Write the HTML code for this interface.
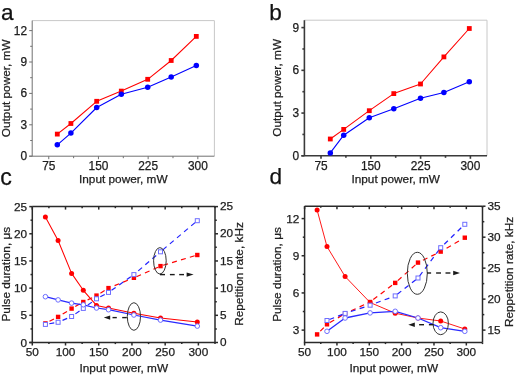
<!DOCTYPE html>
<html><head><meta charset="utf-8"><style>
html,body{margin:0;padding:0;background:#fff;width:525px;height:375px;overflow:hidden}
svg{display:block;will-change:transform}
text{font-family:"Liberation Sans", sans-serif;stroke:#1a1a1a;stroke-width:0.25px}
</style></head><body>
<svg width="525" height="375" viewBox="0 0 525 375">
<rect width="525" height="375" fill="#fff"/>
<g>
<line x1="32.20" y1="20.60" x2="214.40" y2="20.60" stroke="#c8c8c8" stroke-width="1" />
<line x1="214.40" y1="20.60" x2="214.40" y2="156.20" stroke="#c8c8c8" stroke-width="1" />
<line x1="29.20" y1="156.20" x2="214.40" y2="156.20" stroke="#707070" stroke-width="1" />
<line x1="32.20" y1="20.60" x2="32.20" y2="156.20" stroke="#707070" stroke-width="1" />
<line x1="48.76" y1="156.20" x2="48.76" y2="159.20" stroke="#707070" stroke-width="1" />
<line x1="73.61" y1="156.20" x2="73.61" y2="158.20" stroke="#707070" stroke-width="1" />
<line x1="98.45" y1="156.20" x2="98.45" y2="159.20" stroke="#707070" stroke-width="1" />
<line x1="123.30" y1="156.20" x2="123.30" y2="158.20" stroke="#707070" stroke-width="1" />
<line x1="148.15" y1="156.20" x2="148.15" y2="159.20" stroke="#707070" stroke-width="1" />
<line x1="172.99" y1="156.20" x2="172.99" y2="158.20" stroke="#707070" stroke-width="1" />
<line x1="197.84" y1="156.20" x2="197.84" y2="159.20" stroke="#707070" stroke-width="1" />
<line x1="30.20" y1="140.50" x2="32.20" y2="140.50" stroke="#707070" stroke-width="1" />
<line x1="30.20" y1="109.10" x2="32.20" y2="109.10" stroke="#707070" stroke-width="1" />
<line x1="30.20" y1="77.70" x2="32.20" y2="77.70" stroke="#707070" stroke-width="1" />
<line x1="30.20" y1="46.30" x2="32.20" y2="46.30" stroke="#707070" stroke-width="1" />
<line x1="29.20" y1="156.20" x2="32.20" y2="156.20" stroke="#707070" stroke-width="1" />
<text x="27.00" y="160.20" font-size="11.9" text-anchor="end" fill="#222" >0</text>
<line x1="29.20" y1="124.80" x2="32.20" y2="124.80" stroke="#707070" stroke-width="1" />
<text x="27.00" y="128.80" font-size="11.9" text-anchor="end" fill="#222" >3</text>
<line x1="29.20" y1="93.40" x2="32.20" y2="93.40" stroke="#707070" stroke-width="1" />
<text x="27.00" y="97.40" font-size="11.9" text-anchor="end" fill="#222" >6</text>
<line x1="29.20" y1="62.00" x2="32.20" y2="62.00" stroke="#707070" stroke-width="1" />
<text x="27.00" y="66.00" font-size="11.9" text-anchor="end" fill="#222" >9</text>
<line x1="29.20" y1="30.60" x2="32.20" y2="30.60" stroke="#707070" stroke-width="1" />
<text x="27.00" y="34.60" font-size="11.9" text-anchor="end" fill="#222" >12</text>
<text x="48.76" y="170.00" font-size="11.9" text-anchor="middle" fill="#222" >75</text>
<text x="98.45" y="170.00" font-size="11.9" text-anchor="middle" fill="#222" >150</text>
<text x="148.15" y="170.00" font-size="11.9" text-anchor="middle" fill="#222" >225</text>
<text x="197.84" y="170.00" font-size="11.9" text-anchor="middle" fill="#222" >300</text>
<polyline points="57.30,134.10 70.90,123.50 96.70,101.30 121.30,91.10 147.70,79.30 171.20,60.50 196.30,36.40" fill="none" stroke="#ff0000" stroke-width="1.05" stroke-linejoin="round"/>
<polyline points="57.30,144.80 70.90,133.10 96.70,107.50 121.30,94.30 147.70,87.20 171.20,76.90 196.30,65.40" fill="none" stroke="#0000ff" stroke-width="1.1" stroke-linejoin="round"/>
<rect x="54.90" y="131.70" width="4.8" height="4.8" fill="#ff0000"/>
<rect x="68.50" y="121.10" width="4.8" height="4.8" fill="#ff0000"/>
<rect x="94.30" y="98.90" width="4.8" height="4.8" fill="#ff0000"/>
<rect x="118.90" y="88.70" width="4.8" height="4.8" fill="#ff0000"/>
<rect x="145.30" y="76.90" width="4.8" height="4.8" fill="#ff0000"/>
<rect x="168.80" y="58.10" width="4.8" height="4.8" fill="#ff0000"/>
<rect x="193.90" y="34.00" width="4.8" height="4.8" fill="#ff0000"/>
<circle cx="57.30" cy="144.80" r="2.75" fill="#0000ff"/>
<circle cx="70.90" cy="133.10" r="2.75" fill="#0000ff"/>
<circle cx="96.70" cy="107.50" r="2.75" fill="#0000ff"/>
<circle cx="121.30" cy="94.30" r="2.75" fill="#0000ff"/>
<circle cx="147.70" cy="87.20" r="2.75" fill="#0000ff"/>
<circle cx="171.20" cy="76.90" r="2.75" fill="#0000ff"/>
<circle cx="196.30" cy="65.40" r="2.75" fill="#0000ff"/>
<text x="0.90" y="19.60" font-size="22.6" text-anchor="start" fill="#111" >a</text>
<text x="123.30" y="183.00" font-size="11.8" text-anchor="middle" fill="#222" >Input power, mW</text>
<text x="0" y="0" transform="translate(10.30,88.30) rotate(-90)" font-size="11.8" text-anchor="middle" fill="#222" >Output power, mW</text>
</g>
<line x1="304.40" y1="20.20" x2="487.00" y2="20.20" stroke="#c8c8c8" stroke-width="1" />
<line x1="487.00" y1="20.20" x2="487.00" y2="155.80" stroke="#c8c8c8" stroke-width="1" />
<line x1="301.40" y1="155.80" x2="487.00" y2="155.80" stroke="#3a3a3a" stroke-width="1.6" />
<line x1="304.40" y1="20.20" x2="304.40" y2="155.80" stroke="#3a3a3a" stroke-width="1.6" />
<line x1="321.00" y1="155.80" x2="321.00" y2="158.80" stroke="#3a3a3a" stroke-width="1.6" />
<line x1="345.90" y1="155.80" x2="345.90" y2="157.80" stroke="#3a3a3a" stroke-width="1.6" />
<line x1="370.80" y1="155.80" x2="370.80" y2="158.80" stroke="#3a3a3a" stroke-width="1.6" />
<line x1="395.70" y1="155.80" x2="395.70" y2="157.80" stroke="#3a3a3a" stroke-width="1.6" />
<line x1="420.60" y1="155.80" x2="420.60" y2="158.80" stroke="#3a3a3a" stroke-width="1.6" />
<line x1="445.50" y1="155.80" x2="445.50" y2="157.80" stroke="#3a3a3a" stroke-width="1.6" />
<line x1="470.40" y1="155.80" x2="470.40" y2="158.80" stroke="#3a3a3a" stroke-width="1.6" />
<line x1="302.40" y1="134.43" x2="304.40" y2="134.43" stroke="#3a3a3a" stroke-width="1.6" />
<line x1="302.40" y1="91.70" x2="304.40" y2="91.70" stroke="#3a3a3a" stroke-width="1.6" />
<line x1="302.40" y1="48.97" x2="304.40" y2="48.97" stroke="#3a3a3a" stroke-width="1.6" />
<line x1="301.40" y1="155.80" x2="304.40" y2="155.80" stroke="#3a3a3a" stroke-width="1.6" />
<text x="299.20" y="159.80" font-size="11.9" text-anchor="end" fill="#222" >0</text>
<line x1="301.40" y1="113.07" x2="304.40" y2="113.07" stroke="#3a3a3a" stroke-width="1.6" />
<text x="299.20" y="117.07" font-size="11.9" text-anchor="end" fill="#222" >3</text>
<line x1="301.40" y1="70.33" x2="304.40" y2="70.33" stroke="#3a3a3a" stroke-width="1.6" />
<text x="299.20" y="74.33" font-size="11.9" text-anchor="end" fill="#222" >6</text>
<line x1="301.40" y1="27.60" x2="304.40" y2="27.60" stroke="#3a3a3a" stroke-width="1.6" />
<text x="299.20" y="31.60" font-size="11.9" text-anchor="end" fill="#222" >9</text>
<text x="321.00" y="169.60" font-size="11.9" text-anchor="middle" fill="#222" >75</text>
<text x="370.80" y="169.60" font-size="11.9" text-anchor="middle" fill="#222" >150</text>
<text x="420.60" y="169.60" font-size="11.9" text-anchor="middle" fill="#222" >225</text>
<text x="470.40" y="169.60" font-size="11.9" text-anchor="middle" fill="#222" >300</text>
<polyline points="330.30,139.00 343.70,129.40 369.30,110.70 393.80,93.60 420.50,84.00 443.90,56.90 469.30,28.50" fill="none" stroke="#ff0000" stroke-width="1.05" stroke-linejoin="round"/>
<polyline points="330.30,152.90 343.70,135.20 369.30,117.70 393.80,108.80 420.50,98.30 443.90,92.50 469.30,81.80" fill="none" stroke="#0000ff" stroke-width="1.1" stroke-linejoin="round"/>
<rect x="327.90" y="136.60" width="4.8" height="4.8" fill="#ff0000"/>
<rect x="341.30" y="127.00" width="4.8" height="4.8" fill="#ff0000"/>
<rect x="366.90" y="108.30" width="4.8" height="4.8" fill="#ff0000"/>
<rect x="391.40" y="91.20" width="4.8" height="4.8" fill="#ff0000"/>
<rect x="418.10" y="81.60" width="4.8" height="4.8" fill="#ff0000"/>
<rect x="441.50" y="54.50" width="4.8" height="4.8" fill="#ff0000"/>
<rect x="466.90" y="26.10" width="4.8" height="4.8" fill="#ff0000"/>
<circle cx="330.30" cy="152.90" r="2.75" fill="#0000ff"/>
<circle cx="343.70" cy="135.20" r="2.75" fill="#0000ff"/>
<circle cx="369.30" cy="117.70" r="2.75" fill="#0000ff"/>
<circle cx="393.80" cy="108.80" r="2.75" fill="#0000ff"/>
<circle cx="420.50" cy="98.30" r="2.75" fill="#0000ff"/>
<circle cx="443.90" cy="92.50" r="2.75" fill="#0000ff"/>
<circle cx="469.30" cy="81.80" r="2.75" fill="#0000ff"/>
<text x="269.30" y="19.60" font-size="22.6" text-anchor="start" fill="#111" >b</text>
<text x="395.70" y="183.00" font-size="11.8" text-anchor="middle" fill="#222" >Input power, mW</text>
<text x="0" y="0" transform="translate(280.70,87.80) rotate(-90)" font-size="11.8" text-anchor="middle" fill="#222" >Output power, mW</text>
<line x1="32.30" y1="206.60" x2="215.00" y2="206.60" stroke="#2a2a2a" stroke-width="1.5" />
<line x1="215.00" y1="206.60" x2="215.00" y2="342.50" stroke="#2a2a2a" stroke-width="1.5" />
<line x1="29.30" y1="342.50" x2="215.00" y2="342.50" stroke="#2a2a2a" stroke-width="1.5" />
<line x1="32.30" y1="206.60" x2="32.30" y2="342.50" stroke="#2a2a2a" stroke-width="1.5" />
<line x1="32.30" y1="342.50" x2="32.30" y2="345.50" stroke="#2a2a2a" stroke-width="1.5" />
<line x1="32.30" y1="206.60" x2="32.30" y2="209.60" stroke="#2a2a2a" stroke-width="1.5" />
<text x="32.30" y="356.10" font-size="11.8" text-anchor="middle" fill="#222" >50</text>
<line x1="48.91" y1="342.50" x2="48.91" y2="344.10" stroke="#2a2a2a" stroke-width="1.5" />
<line x1="48.91" y1="206.60" x2="48.91" y2="208.20" stroke="#2a2a2a" stroke-width="1.5" />
<line x1="65.52" y1="342.50" x2="65.52" y2="345.50" stroke="#2a2a2a" stroke-width="1.5" />
<line x1="65.52" y1="206.60" x2="65.52" y2="209.60" stroke="#2a2a2a" stroke-width="1.5" />
<text x="65.52" y="356.10" font-size="11.8" text-anchor="middle" fill="#222" >100</text>
<line x1="82.13" y1="342.50" x2="82.13" y2="344.10" stroke="#2a2a2a" stroke-width="1.5" />
<line x1="82.13" y1="206.60" x2="82.13" y2="208.20" stroke="#2a2a2a" stroke-width="1.5" />
<line x1="98.74" y1="342.50" x2="98.74" y2="345.50" stroke="#2a2a2a" stroke-width="1.5" />
<line x1="98.74" y1="206.60" x2="98.74" y2="209.60" stroke="#2a2a2a" stroke-width="1.5" />
<text x="98.74" y="356.10" font-size="11.8" text-anchor="middle" fill="#222" >150</text>
<line x1="115.35" y1="342.50" x2="115.35" y2="344.10" stroke="#2a2a2a" stroke-width="1.5" />
<line x1="115.35" y1="206.60" x2="115.35" y2="208.20" stroke="#2a2a2a" stroke-width="1.5" />
<line x1="131.95" y1="342.50" x2="131.95" y2="345.50" stroke="#2a2a2a" stroke-width="1.5" />
<line x1="131.95" y1="206.60" x2="131.95" y2="209.60" stroke="#2a2a2a" stroke-width="1.5" />
<text x="131.95" y="356.10" font-size="11.8" text-anchor="middle" fill="#222" >200</text>
<line x1="148.56" y1="342.50" x2="148.56" y2="344.10" stroke="#2a2a2a" stroke-width="1.5" />
<line x1="148.56" y1="206.60" x2="148.56" y2="208.20" stroke="#2a2a2a" stroke-width="1.5" />
<line x1="165.17" y1="342.50" x2="165.17" y2="345.50" stroke="#2a2a2a" stroke-width="1.5" />
<line x1="165.17" y1="206.60" x2="165.17" y2="209.60" stroke="#2a2a2a" stroke-width="1.5" />
<text x="165.17" y="356.10" font-size="11.8" text-anchor="middle" fill="#222" >250</text>
<line x1="181.78" y1="342.50" x2="181.78" y2="344.10" stroke="#2a2a2a" stroke-width="1.5" />
<line x1="181.78" y1="206.60" x2="181.78" y2="208.20" stroke="#2a2a2a" stroke-width="1.5" />
<line x1="198.39" y1="342.50" x2="198.39" y2="345.50" stroke="#2a2a2a" stroke-width="1.5" />
<line x1="198.39" y1="206.60" x2="198.39" y2="209.60" stroke="#2a2a2a" stroke-width="1.5" />
<text x="198.39" y="356.10" font-size="11.8" text-anchor="middle" fill="#222" >300</text>
<line x1="215.00" y1="342.50" x2="215.00" y2="344.10" stroke="#2a2a2a" stroke-width="1.5" />
<line x1="215.00" y1="206.60" x2="215.00" y2="208.20" stroke="#2a2a2a" stroke-width="1.5" />
<line x1="30.50" y1="328.91" x2="32.30" y2="328.91" stroke="#2a2a2a" stroke-width="1.5" />
<line x1="30.50" y1="301.73" x2="32.30" y2="301.73" stroke="#2a2a2a" stroke-width="1.5" />
<line x1="30.50" y1="274.55" x2="32.30" y2="274.55" stroke="#2a2a2a" stroke-width="1.5" />
<line x1="30.50" y1="247.37" x2="32.30" y2="247.37" stroke="#2a2a2a" stroke-width="1.5" />
<line x1="30.50" y1="220.19" x2="32.30" y2="220.19" stroke="#2a2a2a" stroke-width="1.5" />
<line x1="29.30" y1="342.50" x2="32.30" y2="342.50" stroke="#2a2a2a" stroke-width="1.5" />
<text x="27.10" y="346.50" font-size="11.8" text-anchor="end" fill="#222" >0</text>
<line x1="29.30" y1="315.32" x2="32.30" y2="315.32" stroke="#2a2a2a" stroke-width="1.5" />
<text x="27.10" y="319.32" font-size="11.8" text-anchor="end" fill="#222" >5</text>
<line x1="29.30" y1="288.14" x2="32.30" y2="288.14" stroke="#2a2a2a" stroke-width="1.5" />
<text x="27.10" y="292.14" font-size="11.8" text-anchor="end" fill="#222" >10</text>
<line x1="29.30" y1="260.96" x2="32.30" y2="260.96" stroke="#2a2a2a" stroke-width="1.5" />
<text x="27.10" y="264.96" font-size="11.8" text-anchor="end" fill="#222" >15</text>
<line x1="29.30" y1="233.78" x2="32.30" y2="233.78" stroke="#2a2a2a" stroke-width="1.5" />
<text x="27.10" y="237.78" font-size="11.8" text-anchor="end" fill="#222" >20</text>
<line x1="29.30" y1="206.60" x2="32.30" y2="206.60" stroke="#2a2a2a" stroke-width="1.5" />
<text x="27.10" y="210.60" font-size="11.8" text-anchor="end" fill="#222" >25</text>
<line x1="215.00" y1="328.91" x2="216.80" y2="328.91" stroke="#2a2a2a" stroke-width="1.5" />
<line x1="215.00" y1="301.73" x2="216.80" y2="301.73" stroke="#2a2a2a" stroke-width="1.5" />
<line x1="215.00" y1="274.55" x2="216.80" y2="274.55" stroke="#2a2a2a" stroke-width="1.5" />
<line x1="215.00" y1="247.37" x2="216.80" y2="247.37" stroke="#2a2a2a" stroke-width="1.5" />
<line x1="215.00" y1="220.19" x2="216.80" y2="220.19" stroke="#2a2a2a" stroke-width="1.5" />
<line x1="215.00" y1="342.50" x2="218.00" y2="342.50" stroke="#2a2a2a" stroke-width="1.5" />
<text x="219.90" y="346.10" font-size="11.8" text-anchor="start" fill="#222" >0</text>
<line x1="215.00" y1="315.32" x2="218.00" y2="315.32" stroke="#2a2a2a" stroke-width="1.5" />
<text x="219.90" y="318.92" font-size="11.8" text-anchor="start" fill="#222" >5</text>
<line x1="215.00" y1="288.14" x2="218.00" y2="288.14" stroke="#2a2a2a" stroke-width="1.5" />
<text x="219.90" y="291.74" font-size="11.8" text-anchor="start" fill="#222" >10</text>
<line x1="215.00" y1="260.96" x2="218.00" y2="260.96" stroke="#2a2a2a" stroke-width="1.5" />
<text x="219.90" y="264.56" font-size="11.8" text-anchor="start" fill="#222" >15</text>
<line x1="215.00" y1="233.78" x2="218.00" y2="233.78" stroke="#2a2a2a" stroke-width="1.5" />
<text x="219.90" y="237.38" font-size="11.8" text-anchor="start" fill="#222" >20</text>
<line x1="215.00" y1="206.60" x2="218.00" y2="206.60" stroke="#2a2a2a" stroke-width="1.5" />
<text x="219.90" y="210.20" font-size="11.8" text-anchor="start" fill="#222" >25</text>
<line x1="49.52" y1="321.29" x2="53.98" y2="319.01" stroke="#ff0000" stroke-width="1.2"/>
<line x1="62.72" y1="314.06" x2="66.98" y2="311.44" stroke="#ff0000" stroke-width="1.2"/>
<line x1="75.27" y1="306.53" x2="79.63" y2="304.07" stroke="#ff0000" stroke-width="1.2"/>
<line x1="87.65" y1="299.89" x2="92.15" y2="297.71" stroke="#ff0000" stroke-width="1.2"/>
<line x1="100.38" y1="293.17" x2="104.62" y2="290.53" stroke="#ff0000" stroke-width="1.2"/>
<line x1="114.57" y1="285.64" x2="119.21" y2="283.76" stroke="#ff0000" stroke-width="1.2"/>
<line x1="123.19" y1="282.14" x2="127.83" y2="280.26" stroke="#ff0000" stroke-width="1.2"/>
<line x1="136.40" y1="276.70" x2="140.98" y2="274.69" stroke="#ff0000" stroke-width="1.2"/>
<line x1="144.91" y1="272.96" x2="149.49" y2="270.94" stroke="#ff0000" stroke-width="1.2"/>
<line x1="153.42" y1="269.21" x2="158.00" y2="267.20" stroke="#ff0000" stroke-width="1.2"/>
<line x1="163.15" y1="265.30" x2="167.94" y2="263.86" stroke="#ff0000" stroke-width="1.2"/>
<line x1="172.05" y1="262.61" x2="176.84" y2="261.17" stroke="#ff0000" stroke-width="1.2"/>
<line x1="180.96" y1="259.93" x2="185.75" y2="258.49" stroke="#ff0000" stroke-width="1.2"/>
<line x1="189.86" y1="257.24" x2="194.65" y2="255.80" stroke="#ff0000" stroke-width="1.2"/>
<line x1="49.28" y1="323.76" x2="54.22" y2="322.94" stroke="#1f1fff" stroke-width="1.2"/>
<line x1="62.55" y1="320.39" x2="67.15" y2="318.41" stroke="#1f1fff" stroke-width="1.2"/>
<line x1="75.39" y1="313.87" x2="79.51" y2="311.03" stroke="#1f1fff" stroke-width="1.2"/>
<line x1="87.88" y1="305.07" x2="91.92" y2="302.13" stroke="#1f1fff" stroke-width="1.2"/>
<line x1="100.29" y1="296.78" x2="104.71" y2="294.42" stroke="#1f1fff" stroke-width="1.2"/>
<line x1="111.54" y1="290.27" x2="115.63" y2="287.40" stroke="#1f1fff" stroke-width="1.2"/>
<line x1="119.15" y1="284.93" x2="123.25" y2="282.07" stroke="#1f1fff" stroke-width="1.2"/>
<line x1="126.77" y1="279.60" x2="130.86" y2="276.73" stroke="#1f1fff" stroke-width="1.2"/>
<line x1="138.24" y1="270.88" x2="142.04" y2="267.63" stroke="#1f1fff" stroke-width="1.2"/>
<line x1="145.30" y1="264.83" x2="149.10" y2="261.57" stroke="#1f1fff" stroke-width="1.2"/>
<line x1="152.36" y1="258.77" x2="156.16" y2="255.52" stroke="#1f1fff" stroke-width="1.2"/>
<line x1="162.78" y1="249.87" x2="166.60" y2="246.64" stroke="#1f1fff" stroke-width="1.2"/>
<line x1="169.89" y1="243.87" x2="173.71" y2="240.64" stroke="#1f1fff" stroke-width="1.2"/>
<line x1="176.99" y1="237.86" x2="180.81" y2="234.64" stroke="#1f1fff" stroke-width="1.2"/>
<line x1="184.09" y1="231.86" x2="187.91" y2="228.63" stroke="#1f1fff" stroke-width="1.2"/>
<line x1="191.20" y1="225.86" x2="195.02" y2="222.63" stroke="#1f1fff" stroke-width="1.2"/>
<polyline points="45.40,217.10 58.10,240.50 71.60,273.40 83.30,290.30 96.50,305.40 108.50,308.00 133.90,313.30 160.50,318.00 197.30,321.90" fill="none" stroke="#ff0000" stroke-width="1.05" stroke-linejoin="round"/>
<polyline points="45.40,296.70 58.10,299.90 71.60,303.10 83.30,304.80 96.50,308.00 108.50,309.70 133.90,315.00 160.50,320.10 197.30,326.10" fill="none" stroke="#2a2aff" stroke-width="1.25" stroke-linejoin="round"/>
<rect x="43.20" y="321.20" width="4.4" height="4.4" fill="#ff0000"/>
<rect x="55.90" y="314.70" width="4.4" height="4.4" fill="#ff0000"/>
<rect x="69.40" y="306.40" width="4.4" height="4.4" fill="#ff0000"/>
<rect x="81.10" y="299.80" width="4.4" height="4.4" fill="#ff0000"/>
<rect x="94.30" y="293.40" width="4.4" height="4.4" fill="#ff0000"/>
<rect x="106.30" y="285.90" width="4.4" height="4.4" fill="#ff0000"/>
<rect x="131.70" y="275.60" width="4.4" height="4.4" fill="#ff0000"/>
<rect x="158.30" y="263.90" width="4.4" height="4.4" fill="#ff0000"/>
<rect x="195.10" y="252.80" width="4.4" height="4.4" fill="#ff0000"/>
<circle cx="45.40" cy="217.10" r="2.5" fill="#ff0000"/>
<circle cx="58.10" cy="240.50" r="2.5" fill="#ff0000"/>
<circle cx="71.60" cy="273.40" r="2.5" fill="#ff0000"/>
<circle cx="83.30" cy="290.30" r="2.5" fill="#ff0000"/>
<circle cx="96.50" cy="305.40" r="2.5" fill="#ff0000"/>
<circle cx="108.50" cy="308.00" r="2.5" fill="#ff0000"/>
<circle cx="133.90" cy="313.30" r="2.5" fill="#ff0000"/>
<circle cx="160.50" cy="318.00" r="2.5" fill="#ff0000"/>
<circle cx="197.30" cy="321.90" r="2.5" fill="#ff0000"/>
<rect x="43.40" y="322.40" width="4.0" height="4.0" fill="#fff" stroke="#6e6eff" stroke-width="1"/>
<rect x="56.10" y="320.30" width="4.0" height="4.0" fill="#fff" stroke="#6e6eff" stroke-width="1"/>
<rect x="69.60" y="314.50" width="4.0" height="4.0" fill="#fff" stroke="#6e6eff" stroke-width="1"/>
<rect x="81.30" y="306.40" width="4.0" height="4.0" fill="#fff" stroke="#6e6eff" stroke-width="1"/>
<rect x="94.50" y="296.80" width="4.0" height="4.0" fill="#fff" stroke="#6e6eff" stroke-width="1"/>
<rect x="106.50" y="290.40" width="4.0" height="4.0" fill="#fff" stroke="#6e6eff" stroke-width="1"/>
<rect x="131.90" y="272.60" width="4.0" height="4.0" fill="#fff" stroke="#6e6eff" stroke-width="1"/>
<rect x="158.50" y="249.80" width="4.0" height="4.0" fill="#fff" stroke="#6e6eff" stroke-width="1"/>
<rect x="195.30" y="218.70" width="4.0" height="4.0" fill="#fff" stroke="#6e6eff" stroke-width="1"/>
<circle cx="45.40" cy="296.70" r="2.3" fill="#fff" stroke="#6e6eff" stroke-width="1"/>
<circle cx="58.10" cy="299.90" r="2.3" fill="#fff" stroke="#6e6eff" stroke-width="1"/>
<circle cx="71.60" cy="303.10" r="2.3" fill="#fff" stroke="#6e6eff" stroke-width="1"/>
<circle cx="83.30" cy="304.80" r="2.3" fill="#fff" stroke="#6e6eff" stroke-width="1"/>
<circle cx="96.50" cy="308.00" r="2.3" fill="#fff" stroke="#6e6eff" stroke-width="1"/>
<circle cx="108.50" cy="309.70" r="2.3" fill="#fff" stroke="#6e6eff" stroke-width="1"/>
<circle cx="133.90" cy="315.00" r="2.3" fill="#fff" stroke="#6e6eff" stroke-width="1"/>
<circle cx="160.50" cy="320.10" r="2.3" fill="#fff" stroke="#6e6eff" stroke-width="1"/>
<circle cx="197.30" cy="326.10" r="2.3" fill="#fff" stroke="#6e6eff" stroke-width="1"/>
<ellipse cx="159.9" cy="260.8" rx="6.3" ry="13.2" fill="none" stroke="#333" stroke-width="1"/>
<ellipse cx="133.9" cy="316.5" rx="6.6" ry="13.8" fill="none" stroke="#333" stroke-width="1"/>
<line x1="159.9" y1="274.6" x2="165.0" y2="274.6" stroke="#1a1a1a" stroke-width="1.4"/>
<line x1="169.9" y1="274.6" x2="174.7" y2="274.6" stroke="#1a1a1a" stroke-width="1.4"/>
<line x1="179.2" y1="274.6" x2="184.0" y2="274.6" stroke="#1a1a1a" stroke-width="1.4"/>
<polygon points="193.6,274.6 186.6,272.40000000000003 186.6,276.8" fill="#1a1a1a"/>
<line x1="112.5" y1="317.6" x2="116.8" y2="317.6" stroke="#1a1a1a" stroke-width="1.4"/>
<line x1="122.2" y1="317.6" x2="126.8" y2="317.6" stroke="#1a1a1a" stroke-width="1.4"/>
<polygon points="103.8,317.6 110.2,315.40000000000003 110.2,319.8" fill="#1a1a1a"/>
<text x="0.20" y="184.60" font-size="23.2" text-anchor="start" fill="#111" >c</text>
<text x="123.80" y="371.50" font-size="11.8" text-anchor="middle" fill="#222" >Input power, mW</text>
<text x="0" y="0" transform="translate(9.50,274.20) rotate(-90)" font-size="11.8" text-anchor="middle" fill="#222" >Pulse duration, μs</text>
<text x="0" y="0" transform="translate(242.60,274.00) rotate(-90)" font-size="11.8" text-anchor="middle" fill="#222" >Repetition rate, kHz</text>
<line x1="304.60" y1="206.20" x2="482.50" y2="206.20" stroke="#2a2a2a" stroke-width="1.5" />
<line x1="482.50" y1="206.20" x2="482.50" y2="342.50" stroke="#2a2a2a" stroke-width="1.5" />
<line x1="303.85" y1="342.50" x2="482.50" y2="342.50" stroke="#2a2a2a" stroke-width="1.5" />
<line x1="304.60" y1="206.20" x2="304.60" y2="342.50" stroke="#2a2a2a" stroke-width="1.5" />
<line x1="304.60" y1="342.50" x2="304.60" y2="345.50" stroke="#2a2a2a" stroke-width="1.5" />
<line x1="304.60" y1="206.20" x2="304.60" y2="209.20" stroke="#2a2a2a" stroke-width="1.5" />
<text x="304.60" y="356.10" font-size="11.8" text-anchor="middle" fill="#222" >50</text>
<line x1="320.77" y1="342.50" x2="320.77" y2="344.10" stroke="#2a2a2a" stroke-width="1.5" />
<line x1="320.77" y1="206.20" x2="320.77" y2="207.80" stroke="#2a2a2a" stroke-width="1.5" />
<line x1="336.95" y1="342.50" x2="336.95" y2="345.50" stroke="#2a2a2a" stroke-width="1.5" />
<line x1="336.95" y1="206.20" x2="336.95" y2="209.20" stroke="#2a2a2a" stroke-width="1.5" />
<text x="336.95" y="356.10" font-size="11.8" text-anchor="middle" fill="#222" >100</text>
<line x1="353.12" y1="342.50" x2="353.12" y2="344.10" stroke="#2a2a2a" stroke-width="1.5" />
<line x1="353.12" y1="206.20" x2="353.12" y2="207.80" stroke="#2a2a2a" stroke-width="1.5" />
<line x1="369.29" y1="342.50" x2="369.29" y2="345.50" stroke="#2a2a2a" stroke-width="1.5" />
<line x1="369.29" y1="206.20" x2="369.29" y2="209.20" stroke="#2a2a2a" stroke-width="1.5" />
<text x="369.29" y="356.10" font-size="11.8" text-anchor="middle" fill="#222" >150</text>
<line x1="385.46" y1="342.50" x2="385.46" y2="344.10" stroke="#2a2a2a" stroke-width="1.5" />
<line x1="385.46" y1="206.20" x2="385.46" y2="207.80" stroke="#2a2a2a" stroke-width="1.5" />
<line x1="401.64" y1="342.50" x2="401.64" y2="345.50" stroke="#2a2a2a" stroke-width="1.5" />
<line x1="401.64" y1="206.20" x2="401.64" y2="209.20" stroke="#2a2a2a" stroke-width="1.5" />
<text x="401.64" y="356.10" font-size="11.8" text-anchor="middle" fill="#222" >200</text>
<line x1="417.81" y1="342.50" x2="417.81" y2="344.10" stroke="#2a2a2a" stroke-width="1.5" />
<line x1="417.81" y1="206.20" x2="417.81" y2="207.80" stroke="#2a2a2a" stroke-width="1.5" />
<line x1="433.98" y1="342.50" x2="433.98" y2="345.50" stroke="#2a2a2a" stroke-width="1.5" />
<line x1="433.98" y1="206.20" x2="433.98" y2="209.20" stroke="#2a2a2a" stroke-width="1.5" />
<text x="433.98" y="356.10" font-size="11.8" text-anchor="middle" fill="#222" >250</text>
<line x1="450.15" y1="342.50" x2="450.15" y2="344.10" stroke="#2a2a2a" stroke-width="1.5" />
<line x1="450.15" y1="206.20" x2="450.15" y2="207.80" stroke="#2a2a2a" stroke-width="1.5" />
<line x1="466.33" y1="342.50" x2="466.33" y2="345.50" stroke="#2a2a2a" stroke-width="1.5" />
<line x1="466.33" y1="206.20" x2="466.33" y2="209.20" stroke="#2a2a2a" stroke-width="1.5" />
<text x="466.33" y="356.10" font-size="11.8" text-anchor="middle" fill="#222" >300</text>
<line x1="482.50" y1="342.50" x2="482.50" y2="344.10" stroke="#2a2a2a" stroke-width="1.5" />
<line x1="482.50" y1="206.20" x2="482.50" y2="207.80" stroke="#2a2a2a" stroke-width="1.5" />
<line x1="302.80" y1="311.52" x2="304.60" y2="311.52" stroke="#2a2a2a" stroke-width="1.5" />
<line x1="302.80" y1="274.35" x2="304.60" y2="274.35" stroke="#2a2a2a" stroke-width="1.5" />
<line x1="302.80" y1="237.18" x2="304.60" y2="237.18" stroke="#2a2a2a" stroke-width="1.5" />
<line x1="301.60" y1="330.11" x2="304.60" y2="330.11" stroke="#2a2a2a" stroke-width="1.5" />
<text x="299.40" y="334.11" font-size="11.8" text-anchor="end" fill="#222" >3</text>
<line x1="301.60" y1="292.94" x2="304.60" y2="292.94" stroke="#2a2a2a" stroke-width="1.5" />
<text x="299.40" y="296.94" font-size="11.8" text-anchor="end" fill="#222" >6</text>
<line x1="301.60" y1="255.76" x2="304.60" y2="255.76" stroke="#2a2a2a" stroke-width="1.5" />
<text x="299.40" y="259.76" font-size="11.8" text-anchor="end" fill="#222" >9</text>
<line x1="301.60" y1="218.59" x2="304.60" y2="218.59" stroke="#2a2a2a" stroke-width="1.5" />
<text x="299.40" y="222.59" font-size="11.8" text-anchor="end" fill="#222" >12</text>
<line x1="482.50" y1="314.62" x2="484.30" y2="314.62" stroke="#2a2a2a" stroke-width="1.5" />
<line x1="482.50" y1="283.64" x2="484.30" y2="283.64" stroke="#2a2a2a" stroke-width="1.5" />
<line x1="482.50" y1="252.67" x2="484.30" y2="252.67" stroke="#2a2a2a" stroke-width="1.5" />
<line x1="482.50" y1="221.69" x2="484.30" y2="221.69" stroke="#2a2a2a" stroke-width="1.5" />
<line x1="482.50" y1="330.11" x2="485.50" y2="330.11" stroke="#2a2a2a" stroke-width="1.5" />
<text x="487.40" y="333.71" font-size="11.8" text-anchor="start" fill="#222" >15</text>
<line x1="482.50" y1="299.13" x2="485.50" y2="299.13" stroke="#2a2a2a" stroke-width="1.5" />
<text x="487.40" y="302.73" font-size="11.8" text-anchor="start" fill="#222" >20</text>
<line x1="482.50" y1="268.15" x2="485.50" y2="268.15" stroke="#2a2a2a" stroke-width="1.5" />
<text x="487.40" y="271.75" font-size="11.8" text-anchor="start" fill="#222" >25</text>
<line x1="482.50" y1="237.18" x2="485.50" y2="237.18" stroke="#2a2a2a" stroke-width="1.5" />
<text x="487.40" y="240.78" font-size="11.8" text-anchor="start" fill="#222" >30</text>
<line x1="482.50" y1="206.20" x2="485.50" y2="206.20" stroke="#2a2a2a" stroke-width="1.5" />
<text x="487.40" y="209.80" font-size="11.8" text-anchor="start" fill="#222" >35</text>
<line x1="320.30" y1="331.14" x2="323.80" y2="327.56" stroke="#ff0000" stroke-width="1.2"/>
<line x1="329.90" y1="322.59" x2="334.20" y2="320.04" stroke="#ff0000" stroke-width="1.2"/>
<line x1="337.90" y1="317.86" x2="342.20" y2="315.31" stroke="#ff0000" stroke-width="1.2"/>
<line x1="351.11" y1="310.81" x2="355.65" y2="308.70" stroke="#ff0000" stroke-width="1.2"/>
<line x1="359.55" y1="306.90" x2="364.09" y2="304.79" stroke="#ff0000" stroke-width="1.2"/>
<line x1="373.26" y1="299.60" x2="377.24" y2="296.57" stroke="#ff0000" stroke-width="1.2"/>
<line x1="380.66" y1="293.96" x2="384.64" y2="290.94" stroke="#ff0000" stroke-width="1.2"/>
<line x1="388.06" y1="288.33" x2="392.04" y2="285.30" stroke="#ff0000" stroke-width="1.2"/>
<line x1="397.79" y1="280.60" x2="401.52" y2="277.27" stroke="#ff0000" stroke-width="1.2"/>
<line x1="404.73" y1="274.41" x2="408.47" y2="271.09" stroke="#ff0000" stroke-width="1.2"/>
<line x1="411.68" y1="268.23" x2="415.41" y2="264.90" stroke="#ff0000" stroke-width="1.2"/>
<line x1="422.92" y1="260.22" x2="427.42" y2="258.04" stroke="#ff0000" stroke-width="1.2"/>
<line x1="431.28" y1="256.16" x2="435.78" y2="253.98" stroke="#ff0000" stroke-width="1.2"/>
<line x1="446.56" y1="248.22" x2="450.89" y2="245.72" stroke="#ff0000" stroke-width="1.2"/>
<line x1="454.61" y1="243.58" x2="458.94" y2="241.08" stroke="#ff0000" stroke-width="1.2"/>
<line x1="329.39" y1="319.56" x2="334.05" y2="317.74" stroke="#1f1fff" stroke-width="1.2"/>
<line x1="338.05" y1="316.16" x2="342.71" y2="314.34" stroke="#1f1fff" stroke-width="1.2"/>
<line x1="350.81" y1="311.53" x2="355.56" y2="309.97" stroke="#1f1fff" stroke-width="1.2"/>
<line x1="359.64" y1="308.63" x2="364.39" y2="307.07" stroke="#1f1fff" stroke-width="1.2"/>
<line x1="375.95" y1="303.03" x2="380.63" y2="301.30" stroke="#1f1fff" stroke-width="1.2"/>
<line x1="384.67" y1="299.80" x2="389.35" y2="298.07" stroke="#1f1fff" stroke-width="1.2"/>
<line x1="397.32" y1="294.24" x2="401.25" y2="291.15" stroke="#1f1fff" stroke-width="1.2"/>
<line x1="404.63" y1="288.49" x2="408.57" y2="285.41" stroke="#1f1fff" stroke-width="1.2"/>
<line x1="411.95" y1="282.75" x2="415.88" y2="279.66" stroke="#1f1fff" stroke-width="1.2"/>
<line x1="419.49" y1="276.02" x2="422.48" y2="272.01" stroke="#1f1fff" stroke-width="1.2"/>
<line x1="425.06" y1="268.57" x2="428.06" y2="264.57" stroke="#1f1fff" stroke-width="1.2"/>
<line x1="430.64" y1="261.13" x2="433.64" y2="257.13" stroke="#1f1fff" stroke-width="1.2"/>
<line x1="436.22" y1="253.69" x2="439.21" y2="249.68" stroke="#1f1fff" stroke-width="1.2"/>
<line x1="444.28" y1="244.22" x2="447.87" y2="240.74" stroke="#1f1fff" stroke-width="1.2"/>
<line x1="450.96" y1="237.74" x2="454.54" y2="234.26" stroke="#1f1fff" stroke-width="1.2"/>
<line x1="457.63" y1="231.26" x2="461.22" y2="227.78" stroke="#1f1fff" stroke-width="1.2"/>
<polyline points="317.10,210.00 327.00,246.60 345.10,276.50 370.10,302.50 395.20,313.20 418.00,318.00 440.70,321.00 464.80,329.00" fill="none" stroke="#ff0000" stroke-width="0.9" stroke-linejoin="round"/>
<polyline points="327.00,331.30 345.10,318.00 370.10,312.90 395.20,311.30 418.00,318.00 440.70,327.70 464.80,331.30" fill="none" stroke="#2a2aff" stroke-width="1.3" stroke-linejoin="round"/>
<rect x="314.90" y="332.20" width="4.4" height="4.4" fill="#ff0000"/>
<rect x="324.80" y="322.10" width="4.4" height="4.4" fill="#ff0000"/>
<rect x="342.90" y="311.40" width="4.4" height="4.4" fill="#ff0000"/>
<rect x="367.90" y="299.80" width="4.4" height="4.4" fill="#ff0000"/>
<rect x="393.00" y="280.70" width="4.4" height="4.4" fill="#ff0000"/>
<rect x="415.80" y="260.40" width="4.4" height="4.4" fill="#ff0000"/>
<rect x="438.50" y="249.40" width="4.4" height="4.4" fill="#ff0000"/>
<rect x="462.60" y="235.50" width="4.4" height="4.4" fill="#ff0000"/>
<circle cx="317.10" cy="210.00" r="2.5" fill="#ff0000"/>
<circle cx="327.00" cy="246.60" r="2.5" fill="#ff0000"/>
<circle cx="345.10" cy="276.50" r="2.5" fill="#ff0000"/>
<circle cx="370.10" cy="302.50" r="2.5" fill="#ff0000"/>
<circle cx="395.20" cy="313.20" r="2.5" fill="#ff0000"/>
<circle cx="418.00" cy="318.00" r="2.5" fill="#ff0000"/>
<circle cx="440.70" cy="321.00" r="2.5" fill="#ff0000"/>
<circle cx="464.80" cy="329.00" r="2.5" fill="#ff0000"/>
<rect x="325.00" y="318.50" width="4.0" height="4.0" fill="#fff" stroke="#6e6eff" stroke-width="1"/>
<rect x="343.10" y="311.40" width="4.0" height="4.0" fill="#fff" stroke="#6e6eff" stroke-width="1"/>
<rect x="368.10" y="303.20" width="4.0" height="4.0" fill="#fff" stroke="#6e6eff" stroke-width="1"/>
<rect x="393.20" y="293.90" width="4.0" height="4.0" fill="#fff" stroke="#6e6eff" stroke-width="1"/>
<rect x="416.00" y="276.00" width="4.0" height="4.0" fill="#fff" stroke="#6e6eff" stroke-width="1"/>
<rect x="438.70" y="245.70" width="4.0" height="4.0" fill="#fff" stroke="#6e6eff" stroke-width="1"/>
<rect x="462.80" y="222.30" width="4.0" height="4.0" fill="#fff" stroke="#6e6eff" stroke-width="1"/>
<circle cx="327.00" cy="331.30" r="2.3" fill="#fff" stroke="#6e6eff" stroke-width="1"/>
<circle cx="345.10" cy="318.00" r="2.3" fill="#fff" stroke="#6e6eff" stroke-width="1"/>
<circle cx="370.10" cy="312.90" r="2.3" fill="#fff" stroke="#6e6eff" stroke-width="1"/>
<circle cx="395.20" cy="311.30" r="2.3" fill="#fff" stroke="#6e6eff" stroke-width="1"/>
<circle cx="418.00" cy="318.00" r="2.3" fill="#fff" stroke="#6e6eff" stroke-width="1"/>
<circle cx="440.70" cy="327.70" r="2.3" fill="#fff" stroke="#6e6eff" stroke-width="1"/>
<circle cx="464.80" cy="331.30" r="2.3" fill="#fff" stroke="#6e6eff" stroke-width="1"/>
<ellipse cx="417.3" cy="273.3" rx="10" ry="21" fill="none" stroke="#333" stroke-width="1"/>
<ellipse cx="440.7" cy="323.3" rx="7.7" ry="11.4" fill="none" stroke="#333" stroke-width="1"/>
<line x1="427.0" y1="273.0" x2="431.1" y2="273.0" stroke="#1a1a1a" stroke-width="1.4"/>
<line x1="436.1" y1="273.0" x2="441.0" y2="273.0" stroke="#1a1a1a" stroke-width="1.4"/>
<line x1="445.5" y1="273.0" x2="450.4" y2="273.0" stroke="#1a1a1a" stroke-width="1.4"/>
<polygon points="460.0,273.0 453.2,270.8 453.2,275.2" fill="#1a1a1a"/>
<line x1="419.1" y1="324.7" x2="424.0" y2="324.7" stroke="#1a1a1a" stroke-width="1.4"/>
<line x1="428.9" y1="324.7" x2="433.4" y2="324.7" stroke="#1a1a1a" stroke-width="1.4"/>
<polygon points="408.3,324.7 414.8,322.5 414.8,326.9" fill="#1a1a1a"/>
<text x="269.50" y="184.00" font-size="22.6" text-anchor="start" fill="#111" >d</text>
<text x="393.80" y="371.50" font-size="11.8" text-anchor="middle" fill="#222" >Input power, mW</text>
<text x="0" y="0" transform="translate(280.60,274.50) rotate(-90)" font-size="11.8" text-anchor="middle" fill="#222" >Pulse duration, μs</text>
<text x="0" y="0" transform="translate(512.60,272.00) rotate(-90)" font-size="11.8" text-anchor="middle" fill="#222" >Reppetition rate, kHz</text>
</svg></body></html>
